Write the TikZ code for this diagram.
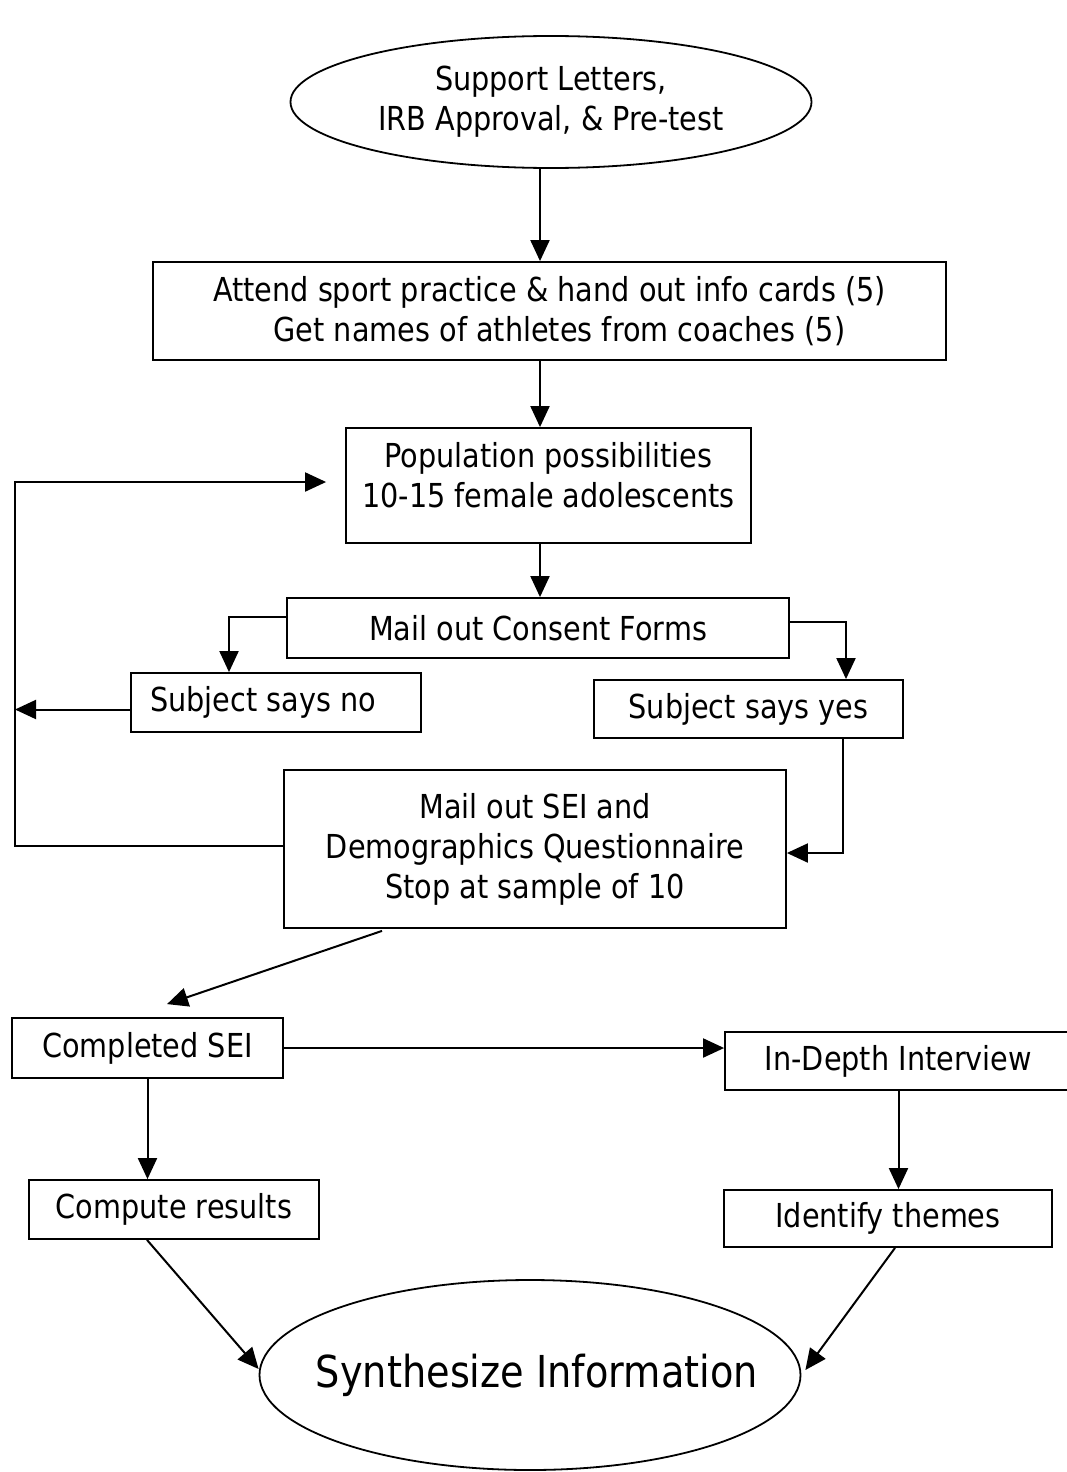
\documentclass[tikz,border=0pt]{standalone}
\usepackage{fontspec}
\setmainfont{DejaVu Sans}[FakeStretch=0.87]
\usetikzlibrary{shapes,arrows.meta,positioning,calc}

\tikzset{
    box/.style={draw, line width=1.8pt, inner sep=0pt, align=center,
        font=\fontsize{33}{40}\selectfont},
    oval/.style={box, ellipse},
    arr/.style={line width=2pt, -{Triangle[length=21pt,width=19pt]}}
}

\begin{document}
\begin{tikzpicture}[x=1pt, y=-1pt]
    \useasboundingbox (0,0) rectangle (1067,1472);
    \coordinate (spine) at (540,0);
    \coordinate (rail) at (15,0);

    \node[oval, minimum width=521pt, minimum height=132pt] (start) at (551,102)
        {Support Letters,\\IRB Approval, \& Pre-test};
    \node[box, minimum width=793pt, minimum height=98pt] (attend) at (549.5,311)
        {Attend sport practice \& hand out info cards (5)\\\hspace{20pt}Get names of athletes from coaches (5)};
    \node[box, minimum width=405pt, minimum height=115pt, text depth=22pt] (pop) at (548.5,485.5)
        {Population possibilities\\10-15 female adolescents};
    \node[box, minimum width=502pt, minimum height=60pt] (consent) at (538,628)
        {Mail out Consent Forms};
    \node[box, minimum width=290pt, minimum height=59pt] (no) at (276,702.5)
        {Subject says no\kern26pt};
    \node[box, minimum width=309pt, minimum height=58pt] (yes) at (748.5,709)
        {Subject says yes};
    \node[box, minimum width=502pt, minimum height=158pt] (sei) at (535,849)
        {Mail out SEI and\\Demographics Questionnaire\\Stop at sample of 10};
    \node[box, minimum width=271pt, minimum height=60pt] (completed) at (147.5,1048)
        {Completed SEI};
    \node[box, minimum width=347pt, minimum height=58pt] (interview) at (898.5,1061)
        {In-Depth Interview};
    \node[box, minimum width=290pt, minimum height=59pt] (compute) at (174,1209.5)
        {Compute results};
    \node[box, minimum width=328pt, minimum height=57pt] (themes) at (888,1218.5)
        {Identify themes};
    \node[oval, minimum width=541pt, minimum height=190pt, inner xsep=-38pt,
        font=\fontsize{44}{52}\selectfont] (synth) at (530,1375)
        {\hspace{14pt}Synthesize Information};

    \draw[arr] (start.south -| spine) -- (attend.north -| spine);
    \draw[arr] (attend.south -| spine) -- (pop.north -| spine);
    \draw[arr] (pop.south -| spine) -- (consent.north -| spine);
    \draw[arr] ([yshift=11pt]consent.west) -| ([xshift=-47pt]no.north);
    \draw[arr] ([yshift=6pt]consent.east) -| ([xshift=97.5pt]yes.north);
    \draw[arr] ([yshift=-7pt]no.west) -- ([yshift=-7pt]no.west -| rail);
    \draw[arr] ([yshift=3pt]sei.west) -| ([yshift=3.5pt]pop.west -| rail)
        -- ([xshift=-19pt,yshift=3.5pt]pop.west);
    \draw[arr] ([xshift=94.5pt]yes.south) |- ([yshift=-4pt]sei.east);
    \draw[arr] ([xshift=-153pt,yshift=-2pt]sei.south) -- ([xshift=19.5pt,yshift=13pt]completed.north);
    \draw[arr] (completed.east) -- (completed.east -| interview.west);
    \draw[arr] (completed.south) -- (completed.south |- compute.north);
    \draw[arr] (interview.south) -- (interview.south |- themes.north);
    \draw[arr] ([xshift=-27pt]compute.south) -- ([yshift=6pt]synth.west);
    \draw[arr] ([xshift=7pt]themes.south) -- ([xshift=4pt,yshift=5pt]synth.east);
\end{tikzpicture}
\end{document}
